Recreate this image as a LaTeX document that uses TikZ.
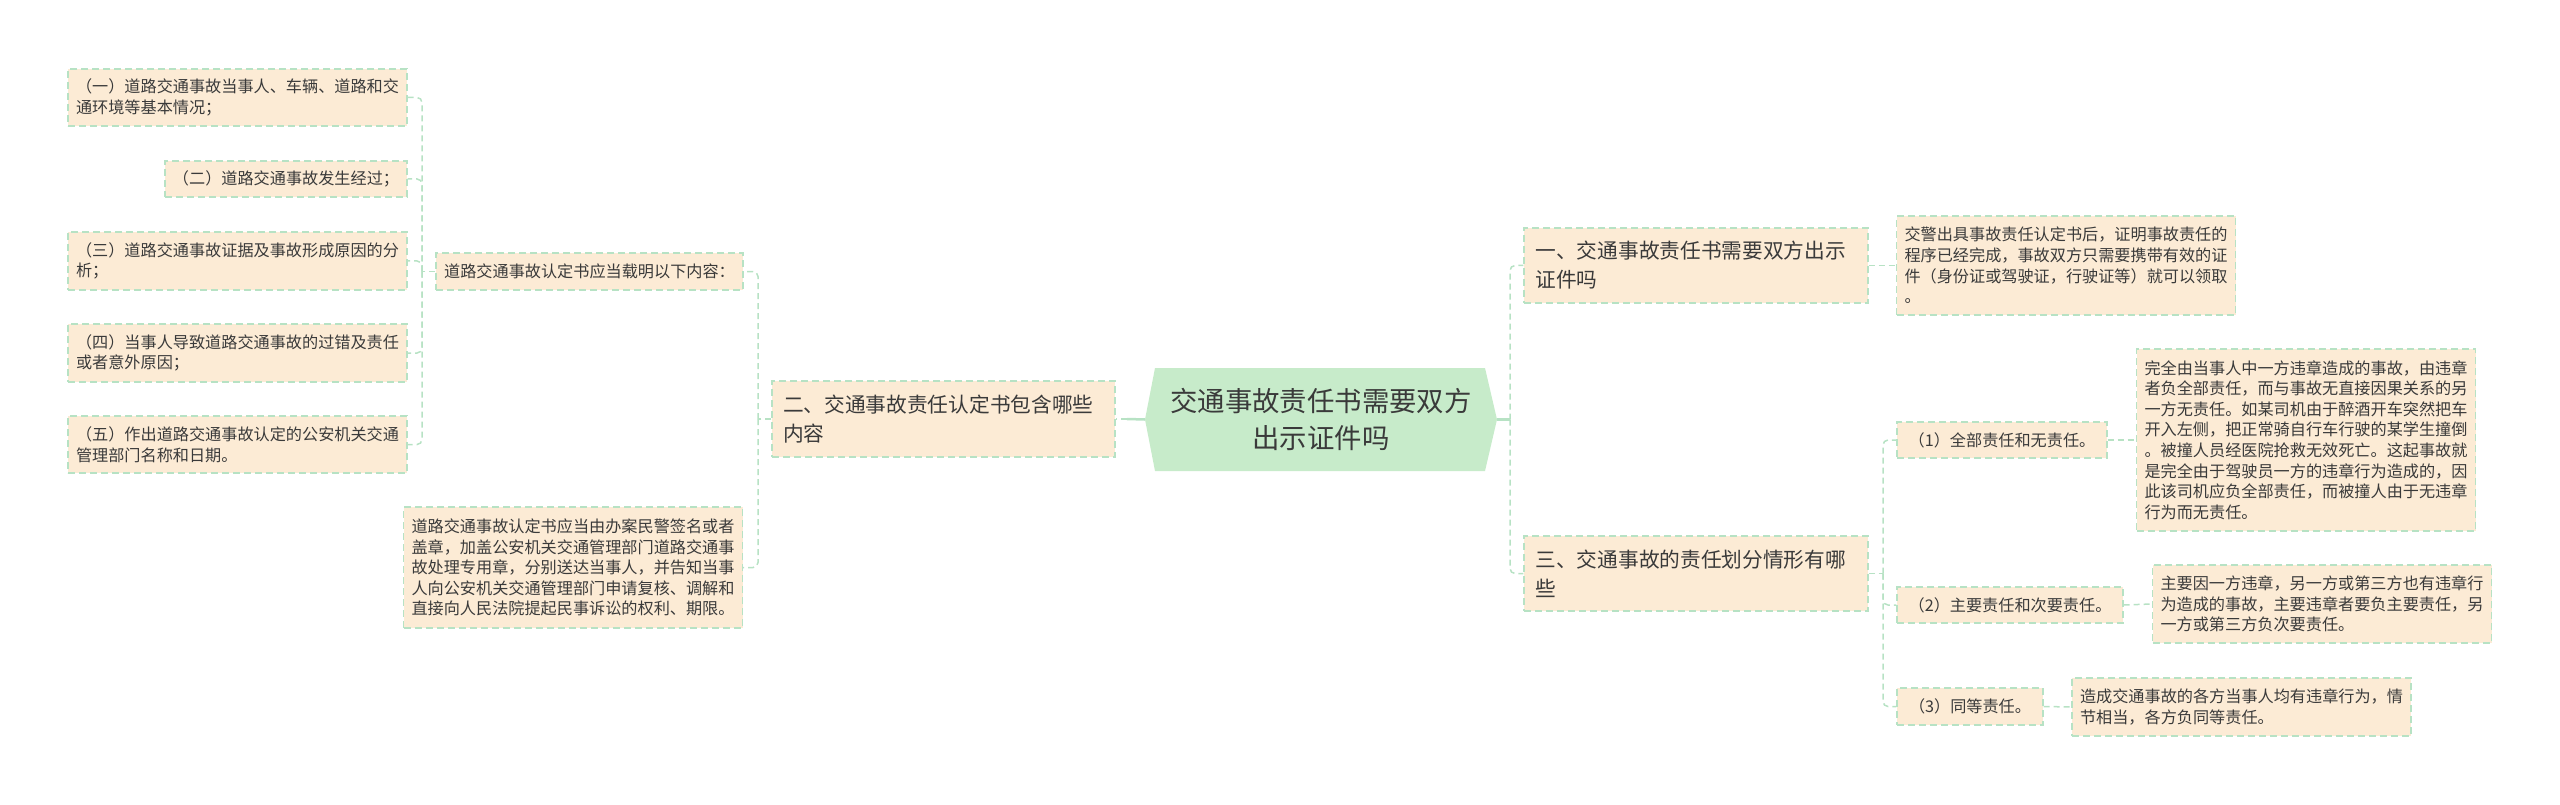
\documentclass[tikz,border=0pt]{standalone}
\usepackage{fontspec}
\setmainfont{Noto Sans CJK SC}
\usepackage{tikz}
\definecolor{kastenfill}{RGB}{252,235,213}
\definecolor{linie}{RGB}{183,226,196}
\definecolor{hauptfill}{RGB}{199,235,202}
\definecolor{schrift}{RGB}{58,58,58}

\begin{document}
\begin{tikzpicture}[x=1pt, y=-1pt,
			kasten/.style={draw=linie, dash pattern=on 7pt off 4pt, line width=1.2pt, fill=kastenfill, text=schrift,
				inner xsep=8pt, inner ysep=0pt, align=left, font=\fontsize{16.15}{20.6}\selectfont},
			gross/.style={kasten, inner xsep=11pt, text width=321pt, font=\fontsize{20.7}{29}\selectfont},
			haupt/.style={rectangle, minimum width=352pt, minimum height=103pt, inner sep=0pt, text=schrift, align=center,
				font=\fontsize{27.4}{37}\selectfont,
				path picture={\fill[hauptfill] (path picture bounding box.west) -- ([xshift=10pt]path picture bounding box.north west)
					-- ([xshift=-12pt]path picture bounding box.north east) -- (path picture bounding box.east)
					-- ([xshift=-12pt]path picture bounding box.south east) -- ([xshift=10pt]path picture bounding box.south west) -- cycle;}},
			link/.style={draw=linie, line width=1.5pt, dash pattern=on 6pt off 4pt, rounded corners=5pt},
			stamm/.style={draw=linie, line width=2.5pt}]
			%Bildbereich
			\useasboundingbox (0,0) rectangle (2560,805);
			% Zentralknoten
			\node[haupt] (mitte) at (1321,419.5) {交通事故责任书需要双方\\出示证件吗};
			% linke Seite
			\node[gross, minimum width=343pt, minimum height=76pt] (zwei) at (943.5,419) {二、交通事故责任认定书包含哪些\\内容};
			\node[kasten, minimum width=307pt, minimum height=37pt] (inhalt) at (589.5,271.5) {道路交通事故认定书应当载明以下内容：};
			\node[kasten, minimum width=339pt, minimum height=121pt] (siegel) at (573,567.5) {道路交通事故认定书应当由办案民警签名或者\\盖章，加盖公安机关交通管理部门道路交通事\\故处理专用章，分别送达当事人，并告知当事\\人向公安机关交通管理部门申请复核、调解和\\直接向人民法院提起民事诉讼的权利、期限。};
			\node[kasten, minimum width=339pt, minimum height=57pt] (p1) at (237.5,97.5) {（一）道路交通事故当事人、车辆、道路和交\\通环境等基本情况；};
			\node[kasten, minimum width=242pt, minimum height=36pt] (p2) at (286,179) {（二）道路交通事故发生经过；};
			\node[kasten, minimum width=339pt, minimum height=58pt] (p3) at (237.5,261) {（三）道路交通事故证据及事故形成原因的分\\析；};
			\node[kasten, minimum width=339pt, minimum height=58pt] (p4) at (237.5,353) {（四）当事人导致道路交通事故的过错及责任\\或者意外原因；};
			\node[kasten, minimum width=339pt, minimum height=57pt] (p5) at (237.5,444.5) {（五）作出道路交通事故认定的公安机关交通\\管理部门名称和日期。};
			% rechte Seite
			\node[gross, minimum width=344pt, minimum height=75pt] (eins) at (1696,265.5) {一、交通事故责任书需要双方出示\\证件吗};
			\node[gross, minimum width=344pt, minimum height=75pt] (drei) at (1696,573.5) {三、交通事故的责任划分情形有哪\\些};
			\node[kasten, minimum width=338pt, minimum height=99pt] (ausweis) at (2066,265.5) {交警出具事故责任认定书后，证明事故责任的\\程序已经完成，事故双方只需要携带有效的证\\件（身份证或驾驶证，行驶证等）就可以领取\\。};
			\node[kasten, minimum width=210pt, minimum height=36pt] (teil1) at (2002,440) {（1）全部责任和无责任。};
			\node[kasten, minimum width=226pt, minimum height=36pt] (teil2) at (2010,605) {（2）主要责任和次要责任。};
			\node[kasten, minimum width=146pt, minimum height=37pt] (teil3) at (1970,706.5) {（3）同等责任。};
			\node[kasten, minimum width=338pt, minimum height=182pt] (text1) at (2306,440) {完全由当事人中一方违章造成的事故，由违章\\者负全部责任，而与事故无直接因果关系的另\\一方无责任。如某司机由于醉酒开车突然把车\\开入左侧，把正常骑自行车行驶的某学生撞倒\\。被撞人员经医院抢救无效死亡。这起事故就\\是完全由于驾驶员一方的违章行为造成的，因\\此该司机应负全部责任，而被撞人由于无违章\\行为而无责任。};
			\node[kasten, minimum width=338pt, minimum height=78pt] (text2) at (2322,604) {主要因一方违章，另一方或第三方也有违章行\\为造成的事故，主要违章者要负主要责任，另\\一方或第三方负次要责任。};
			\node[kasten, minimum width=339pt, minimum height=58pt] (text3) at (2241.5,707) {造成交通事故的各方当事人均有违章行为，情\\节相当，各方负同等责任。};
			% Verzweigungspunkte
			\coordinate (a0) at (1127,419);
			\coordinate (a1) at (422,271.5);
			\coordinate (a2) at (758,419);
			\coordinate (a3) at (1510,419.5);
			\coordinate (a4) at (1883,573.5);
			% Verbindungen zeichnen
			\draw[stamm] (mitte.west) -- (a0);
			\draw[link] (a0) -- (zwei.east);
			\draw[stamm] (mitte.east) -- (a3);
			\draw[link] (zwei.west) -- (a2);
			\foreach \n in {inhalt,siegel} \draw[link] (a2) |- (\n.east);
			\draw[link] (inhalt.west) -- (a1);
			\foreach \n in {p1,p2,p3,p4,p5} \draw[link] (a1) |- (\n.east);
			\foreach \n in {eins,drei} \draw[link] (a3) |- (\n.west);
			\draw[link] (drei.east) -- (a4);
			\foreach \n in {teil1,teil2,teil3} \draw[link] (a4) |- (\n.west);
			\draw[link] (eins.east) -- (ausweis.west);
			\foreach \n in {1,2,3} \draw[link] (teil\n.east) -- (text\n.west);
		\end{tikzpicture}
\end{document}
